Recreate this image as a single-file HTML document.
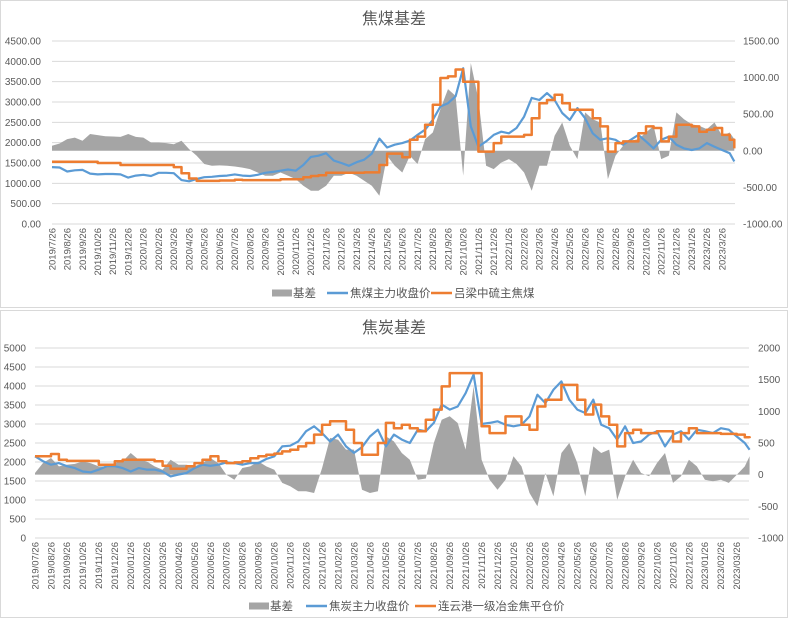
<!DOCTYPE html>
<html><head><meta charset="utf-8">
<style>
html,body{margin:0;padding:0;background:#fff;}
body{width:789px;height:618px;overflow:hidden;font-family:"Liberation Sans","Noto Sans CJK SC",sans-serif;}
svg text{font-family:"Liberation Sans","Noto Sans CJK SC",sans-serif;}
</style></head>
<body>
<svg id="chart" width="789" height="618" viewBox="0 0 789 618" xmlns="http://www.w3.org/2000/svg"></svg>
<script>
// ---- Top chart data (焦煤基差), half-month samples from 2019/7/26 ----
const topBlue = [1400,1390,1290,1320,1330,1240,1220,1230,1230,1220,1140,1190,1210,1180,1260,1260,1250,1080,1050,1110,1150,1160,1180,1190,1220,1190,1180,1210,1260,1280,1310,1340,1310,1450,1650,1680,1740,1560,1500,1430,1520,1580,1730,2100,1880,1950,1990,2050,2190,2320,2560,2890,2970,3140,3830,2400,1900,2030,2190,2270,2230,2360,2640,3100,3050,3220,3050,2730,2560,2850,2600,2230,2070,2110,2070,1950,2070,2190,2030,1860,2070,2150,1950,1860,1820,1860,1990,1900,1820,1740,1540];
const topOrange = [1530,1530,1530,1530,1530,1530,1500,1500,1500,1450,1450,1450,1450,1450,1450,1450,1400,1250,1120,1060,1060,1060,1070,1070,1090,1080,1080,1080,1080,1080,1100,1100,1100,1150,1180,1200,1260,1260,1260,1260,1260,1270,1270,1450,1730,1730,1640,2070,2150,2440,2930,3590,3630,3800,3500,3500,1780,1780,1990,2150,2150,2150,2190,2600,2970,3050,3180,2970,2810,2810,2810,2600,2400,1780,1990,2030,2030,2230,2400,2360,2030,2150,2440,2440,2400,2270,2320,2360,2190,2070,1860];
const topBasis = [68,100,160,180,137,230,215,200,195,190,230,190,180,114,114,105,90,137,23,-68,-180,-205,-200,-205,-214,-230,-250,-296,-340,-340,-296,-340,-387,-478,-547,-547,-478,-340,-340,-300,-340,-410,-478,-615,-68,-205,-296,-68,-180,160,250,570,843,750,-340,1200,705,-205,-250,-160,-114,-180,-296,-547,-205,-205,205,387,68,-114,524,432,387,-387,-68,68,137,160,250,340,-114,-68,524,432,364,340,296,387,205,250,160];
const topLeftTicks = ["0.00","500.00","1000.00","1500.00","2000.00","2500.00","3000.00","3500.00","4000.00","4500.00"];
const topRightTicks = ["-1000.00","-500.00","0.00","500.00","1000.00","1500.00"];

// ---- Bottom chart data (焦炭基差) ----
const botBlue = [2150,2020,1930,1970,1890,1840,1750,1730,1800,1890,1890,1840,1750,1840,1800,1800,1750,1620,1670,1710,1840,1930,1900,1930,1990,1970,1930,1970,1970,2080,2150,2410,2430,2540,2810,2940,2760,2540,2720,2410,2240,2390,2670,2850,2410,2720,2590,2500,2850,2810,3030,3510,3380,3460,3810,4300,3000,3030,3070,2980,2940,2980,3200,3770,3550,3900,4120,3640,3380,3290,3640,2980,2890,2590,2940,2500,2540,2720,2810,2410,2720,2810,2590,2850,2810,2760,2890,2850,2670,2500,2320];
const botOrange = [2150,2150,2210,2060,2030,2030,2030,2030,1930,1930,2020,2060,2060,2060,2060,2020,1900,1820,1820,1890,1970,2060,2150,2020,1970,1990,2020,2100,2150,2190,2220,2280,2320,2410,2500,2720,2980,3070,3070,2850,2500,2190,2190,2500,3030,2890,2980,2890,2810,3110,3380,3990,4340,4340,4340,4340,2940,2760,2760,3200,3200,2980,2850,3460,3640,3640,4030,4030,3640,3250,3510,3200,2980,2410,2760,2850,2760,2760,2810,2810,2540,2760,2890,2760,2760,2760,2740,2740,2720,2650,2630];
const botBasis = [26,184,263,130,158,170,210,180,130,130,184,210,342,237,210,130,79,237,158,158,130,184,263,180,0,-79,105,130,210,130,79,-130,-184,-263,-263,-290,105,580,552,395,395,-237,-290,-263,605,526,342,237,-79,-60,500,868,921,816,395,1395,237,-79,-237,-79,290,130,-290,-500,26,-342,342,500,184,-342,447,342,395,-395,-26,237,26,-26,184,342,-130,-26,237,130,-79,-105,-79,-130,0,130,290];
const botLeftTicks = ["0","500","1000","1500","2000","2500","3000","3500","4000","4500","5000"];
const botRightTicks = ["-1000","-500","0","500","1000","1500","2000"];

// month offsets since 2019/7/26 (half-month samples, last ~mid-April 2023)
const monthOffsets = [];
for (let i = 0; i < 90; i++) monthOffsets.push(i / 2);
monthOffsets.push(44.8);

const NS = "http://www.w3.org/2000/svg";
const svg = document.getElementById("chart");
function mk(tag, attrs, parent) {
  const e = document.createElementNS(NS, tag);
  for (const k in attrs) e.setAttribute(k, attrs[k]);
  (parent || svg).appendChild(e);
  return e;
}

function drawChart(cfg) {
  const g = mk("g", {});
  
  
  const frame = mk("rect", {x: 0.5, y: cfg.frameY + 0.5, width: 787, height: cfg.frameH, fill: "#fff", stroke: "#d9d9d9"}, g);
  
  
  const xOf = m => cfg.x0 + m * cfg.pxPerMonth;
  const yL = v => cfg.yBottom - (v - cfg.lMin) / (cfg.lMax - cfg.lMin) * (cfg.yBottom - cfg.yTop);
  const yR = v => cfg.yBottom - (v - cfg.rMin) / (cfg.rMax - cfg.rMin) * (cfg.yBottom - cfg.yTop);

  // gridlines + left ticks
  cfg.leftTicks.forEach(t => {
    const v = parseFloat(t);
    const y = yL(v);
    const gl = mk("line", {x1: cfg.x0, x2: cfg.xEnd, y1: y, y2: y, stroke: "#d9d9d9", "stroke-width": 1}, g);
    
    
    const tx = mk("text", {x: cfg.leftLabelX, y: y + 3.5, "text-anchor": "end", "font-size": 10, fill: "#595959"}, g);
    tx.textContent = t;
    
    
  });
  cfg.rightTicks.forEach(t => {
    const v = parseFloat(t);
    const tx = mk("text", {x: cfg.rightLabelX, y: yR(v) + 3.5, "text-anchor": "start", "font-size": 10, fill: "#595959"}, g);
    tx.textContent = t;
    
    
  });
  // x labels
  for (let m = 0; m <= 44; m++) {
    const yr = 2019 + Math.floor((6 + m) / 12);
    const mo = ((6 + m) % 12) + 1;
    const lab = cfg.padMonth ? (yr + "/" + String(mo).padStart(2, "0") + "/26") : (yr + "/" + mo + "/26");
    const x = xOf(m);
    const tx = mk("text", {x: x, y: cfg.yBottom + 4, "text-anchor": "end", "font-size": 9.5, fill: "#595959", dy: "0.35em", transform: "rotate(-90 " + x + " " + (cfg.yBottom + 4) + ")"}, g);
    tx.textContent = lab;
    
    
  }
  // basis area
  const y0 = yR(0);
  let d = "M" + xOf(monthOffsets[0]) + "," + y0;
  cfg.basis.forEach((v, i) => { d += " L" + xOf(monthOffsets[i]).toFixed(1) + "," + yR(v).toFixed(1); });
  d += " L" + xOf(monthOffsets[monthOffsets.length - 1]) + "," + y0 + " Z";
  const area = mk("path", {d: d, fill: "#a5a5a5"}, g);
  
  
  // blue line
  let pb = cfg.blue.map((v, i) => xOf(monthOffsets[i]).toFixed(1) + "," + yL(v).toFixed(1)).join(" ");
  const bl = mk("polyline", {points: pb, fill: "none", stroke: "#5b9bd5", "stroke-width": 2.2, "stroke-linejoin": "round"}, g);
  
  
  // orange step line
  let po = [];
  cfg.orange.forEach((v, i) => {
    if (i > 0) po.push(xOf(monthOffsets[i]).toFixed(1) + "," + yL(cfg.orange[i - 1]).toFixed(1));
    po.push(xOf(monthOffsets[i]).toFixed(1) + "," + yL(v).toFixed(1));
  });
  const ol = mk("polyline", {points: po.join(" "), fill: "none", stroke: "#ed7d31", "stroke-width": 2.5, "stroke-linejoin": "round"}, g);
  
  
  // title
  const ti = mk("text", {x: 394, y: cfg.titleY, "text-anchor": "middle", "font-size": 16, fill: "#595959", "font-family": "\"Noto Serif CJK SC\",serif"}, g);
  ti.textContent = cfg.title;
  
  
  // legend
  const L = cfg.legend, ly = cfg.legendY;
  const r = mk("rect", {x: L[0], y: ly - 3.5, width: 20, height: 7, fill: "#a5a5a5"}, g);
  
  
  const items = [[L[0] + 21, "基差"], [L[2] + 23, cfg.blueName], [L[3] + 23, cfg.orangeName]];
  const l1 = mk("line", {x1: L[2], x2: L[2] + 21, y1: ly, y2: ly, stroke: "#5b9bd5", "stroke-width": 2.5}, g);
  
  
  const l2 = mk("line", {x1: L[3], x2: L[3] + 21, y1: ly, y2: ly, stroke: "#ed7d31", "stroke-width": 2.5}, g);
  
  
  items.forEach(it => {
    const t = mk("text", {x: it[0], y: ly + 4, "font-size": 11.5, fill: "#595959"}, g);
    t.textContent = it[1];
    
    
  });
}

drawChart({name: "coking-coal-basis-chart", frameY: 0, frameH: 307, x0: 52, xEnd: 735, pxPerMonth: 15.23,
  yTop: 41, yBottom: 224, lMin: 0, lMax: 4500, rMin: -1000, rMax: 1500,
  leftTicks: topLeftTicks, rightTicks: topRightTicks, leftLabelX: 41, rightLabelX: 743, padMonth: false,
  basis: topBasis, blue: topBlue, orange: topOrange, title: "焦煤基差", titleY: 24,
  legend: [272, 0, 327, 431], legendY: 293, blueName: "焦煤主力收盘价", orangeName: "吕梁中硫主焦煤"});

drawChart({name: "coke-basis-chart", frameY: 310, frameH: 307, x0: 35, xEnd: 749, pxPerMonth: 15.95,
  yTop: 348, yBottom: 538, lMin: 0, lMax: 5000, rMin: -1000, rMax: 2000,
  leftTicks: botLeftTicks, rightTicks: botRightTicks, leftLabelX: 26, rightLabelX: 758, padMonth: true,
  basis: botBasis, blue: botBlue, orange: botOrange, title: "焦炭基差", titleY: 333,
  legend: [249, 0, 306, 415], legendY: 606, blueName: "焦炭主力收盘价", orangeName: "连云港一级冶金焦平仓价"});
</script>
</body></html>
